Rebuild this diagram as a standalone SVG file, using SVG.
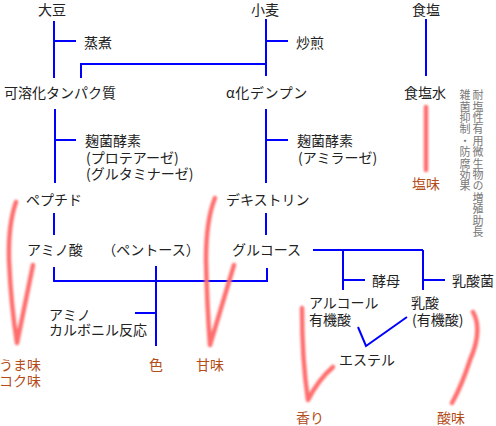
<svg xmlns="http://www.w3.org/2000/svg" width="496" height="426" viewBox="0 0 496 426">
<style>
text{font-family:"Noto Sans CJK JP","Noto Sans CJK SC",sans-serif;font-size:14px;fill:#222;dominant-baseline:central}
.c{text-anchor:middle}
.t{fill:#b34d1a}
.v{font-size:11px;fill:#777;writing-mode:vertical-rl;text-anchor:start;letter-spacing:0.4px}
.b{stroke:#0000ff;stroke-width:2;fill:none}
.p{stroke:#ff6e6e;stroke-width:4.5;fill:none;stroke-linecap:round;stroke-linejoin:round;filter:url(#glow)}
</style>
<defs>
<filter id="glow" x="-50%" y="-10%" width="200%" height="120%"><feGaussianBlur stdDeviation="0.9"/></filter>
</defs>
<rect width="496" height="426" fill="#fff"/>
<g id="connectors" class="b">
<path d="M54,21V78M54,41H76"/>
<path d="M81,78V64H266"/>
<path d="M266,19V76M266,41H288"/>
<path d="M426,19V76"/>
<path d="M55,109V183M55,140H76"/>
<path d="M266,109V183M266,140H288"/>
<path d="M54,213V235M266,213V235"/>
<path d="M54,267V281H267V268"/>
<path d="M156,266V346M135,313H156"/>
<path d="M313,250H423M343,250V290M423,250V290M343,280H365M423,280H445"/>
<path d="M358,327L366,346L407,317"/>
</g>
<g id="taste-links" class="p">
<path d="M426,107V170"/>
<path d="M16,202Q8,225 9,260Q11,305 17,343L33,265"/>
<path d="M215,198Q206,220 206,260Q207,305 210,345L234,265"/>
<path d="M302,308Q302,360 308,400Q318,380 333,367"/>
<path d="M473,312Q483,330 470,360Q462,385 452,403"/>
</g>
<g id="daizu"><text class="c" x="52" y="8.5">大豆</text></g>
<g id="komugi"><text class="c" x="265" y="8.5">小麦</text></g>
<g id="shokuen"><text class="c" x="426" y="8.5">食塩</text></g>
<g id="joshu"><text x="84" y="42">蒸煮</text></g>
<g id="irisen"><text x="296" y="42">炒煎</text></g>
<g id="protein"><text x="4" y="92">可溶化タンパク質</text></g>
<g id="starch"><text x="226" y="92" letter-spacing="0.6">α化デンプン</text></g>
<g id="ensui"><text class="c" x="425" y="92">食塩水</text></g>
<g id="koso1"><text x="85" y="140">麹菌酵素</text><text x="86" y="157">(プロテアーゼ)</text><text x="86" y="173">(グルタミナーゼ)</text></g>
<g id="koso2"><text x="297" y="140">麹菌酵素</text><text x="298" y="157">(アミラーゼ)</text></g>
<g id="peptide"><text x="26" y="199">ペプチド</text></g>
<g id="dextrin"><text x="226" y="199">デキストリン</text></g>
<g id="aminoacid"><text x="27" y="249">アミノ酸</text></g>
<g id="pentose"><text class="c" x="151" y="249">（ペントース）</text></g>
<g id="glucose"><text x="232" y="249">グルコース</text></g>
<g id="kobo"><text x="372" y="280">酵母</text></g>
<g id="nyusankin"><text x="452" y="280">乳酸菌</text></g>
<g id="alcohol"><text x="309" y="302">アルコール</text><text x="309" y="319">有機酸</text></g>
<g id="nyusan"><text x="411" y="302">乳酸</text><text x="412" y="319">(有機酸)</text></g>
<g id="ester"><text x="339" y="359">エステル</text></g>
<g id="aminocarbonyl"><text x="49" y="314">アミノ</text><text x="49" y="329">カルボニル反応</text></g>
<g id="enmi"><text class="c t" x="426" y="183">塩味</text></g>
<g id="umami"><text class="c t" x="20" y="364">うま味</text><text class="c t" x="20" y="380">コク味</text></g>
<g id="iro"><text class="c t" x="156" y="364">色</text></g>
<g id="amami"><text class="c t" x="210" y="364">甘味</text></g>
<g id="kaori"><text class="c t" x="310" y="417">香り</text></g>
<g id="sanmi"><text class="c t" x="451" y="417">酸味</text></g>
<g id="note1"><text class="v" x="478" y="89.5">耐塩性有用微生物の増殖助長</text></g>
<g id="note2"><text class="v" x="465" y="89.5">雑菌抑制・防腐効果</text></g>
</svg>
